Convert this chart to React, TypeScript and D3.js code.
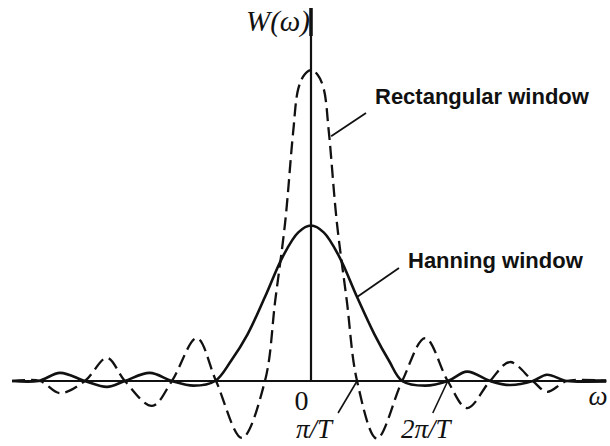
import React from "react";
import * as d3 from "d3";

// Frequency axis in units of π/T, amplitude normalised to the rectangular peak.
// Rectangular window spectrum: key points (zeros, lobe extremes, main-lobe flanks).
const rectU = [-6.36, -5.77, -5.34, -4.81, -4.34, -3.96, -3.38, -2.96, -2.43, -2.02, -1.47, -0.98, -0.76, -0.55, -0.38, -0.27, -0.14, 0, 0.14, 0.27, 0.38, 0.55, 0.76, 0.98, 1.4, 1.94, 2.43, 2.91, 3.32, 3.81, 4.23, 4.72, 5.02, 5.45, 6.28];
const rectW = [0, 0, -0.039, 0, 0.074, 0, -0.08, 0, 0.138, 0, -0.183, 0, 0.26, 0.51, 0.8, 0.94, 0.985, 1.0, 0.985, 0.94, 0.8, 0.51, 0.26, 0, -0.185, 0, 0.138, 0, -0.087, 0, 0.061, 0, -0.035, 0, 0];

// Hanning window spectrum.
const hannU = [-6.36, -5.8, -5.34, -4.81, -4.34, -3.96, -3.43, -2.96, -2.5, -2.04, -1.7, -1.35, -0.98, -0.6, -0.27, 0, 0.27, 0.6, 0.98, 1.35, 1.66, 1.94, 2.43, 2.91, 3.32, 3.81, 4.23, 4.72, 5.02, 5.45, 6.28];
const hannW = [0, 0, 0.026, 0, -0.019, 0, 0.026, 0, -0.015, 0, 0.065, 0.15, 0.27, 0.4, 0.478, 0.5, 0.478, 0.4, 0.27, 0.15, 0.065, 0, -0.015, 0, 0.03, 0, -0.013, 0, 0.02, 0, 0];

// Axis extent and annotated positions (π/T units)
const axisExtent = [-6.36, 6.28];
const tickNotes = [
  { text: "0", at: -0.2 },
  { text: "π/T", at: 0.98 },
  { text: "2π/T", at: 2.91 },
];

const W = 610;
const H = 446;

export default function App() {
  const x = d3.scaleLinear().domain([-1, 1]).range([264, 358]);
  const y = d3.scaleLinear().domain([0, 1]).range([381, 70]);

  const line = d3
    .line<[number, number]>()
    .x((d) => x(d[0]))
    .y((d) => y(d[1]))
    .curve(d3.curveCatmullRom.alpha(0.5));

  const rectPts = rectU.map((u, i) => [u, rectW[i]] as [number, number]);
  const hannPts = hannU.map((u, i) => [u, hannW[i]] as [number, number]);

  const x0 = x(0);
  const yBase = y(0);
  const serif = "'Liberation Serif', 'DejaVu Serif', serif";
  const sans = "'Liberation Sans', Arial, sans-serif";

  // leader anchors
  const rectLeaderU = 0.45;
  const hannLeaderU = 0.98;
  const hannAt = (u: number) => hannW[hannU.indexOf(u)];

  const piNote = tickNotes[1];
  const twoPiNote = tickNotes[2];

  return (
    <svg
      width={W}
      height={H}
      viewBox={`0 0 ${W} ${H}`}
      style={{ position: "absolute", left: 0, top: 0, display: "block", background: "#fff" }}
    >
      <rect width={W} height={H} fill="#fff" />
      {/* horizontal axis */}
      <line x1={x(axisExtent[0])} x2={x(axisExtent[1])} y1={yBase} y2={yBase} stroke="#111" strokeWidth={1.8} />
      <line x1={x(axisExtent[1]) - 20} x2={x(axisExtent[1])} y1={yBase} y2={yBase} stroke="#111" strokeWidth={3.5} />
      {/* vertical axis */}
      <line x1={x0} x2={x0} y1={8} y2={yBase} stroke="#111" strokeWidth={2.2} />
      <line x1={x0} x2={x0} y1={8} y2={36} stroke="#111" strokeWidth={3.5} />

      {/* spectra */}
      <path d={line(hannPts) ?? ""} fill="none" stroke="#111" strokeWidth={2.6} />
      <path
        d={line(rectPts) ?? ""}
        fill="none"
        stroke="#111"
        strokeWidth={2.3}
        strokeDasharray="13 6"
      />

      {/* legend leaders */}
      <line x1={x(rectLeaderU) - 1} y1={y(0.8) + 4} x2={366} y2={113} stroke="#111" strokeWidth={1.8} />
      <line x1={x(hannLeaderU)} y1={y(hannAt(hannLeaderU))} x2={399} y2={268} stroke="#111" strokeWidth={1.8} />
      <text x={375} y={104} fontFamily={sans} fontWeight="bold" fontSize={22} fill="#111">
        Rectangular window
      </text>
      <text x={408} y={268} fontFamily={sans} fontWeight="bold" fontSize={22} fill="#111">
        Hanning window
      </text>

      {/* axis labels */}
      <text x={310} y={31} textAnchor="end" fontFamily={serif} fontStyle="italic" fontSize={29} fill="#111">
        W(ω)
      </text>
      <text x={598} y={405} textAnchor="middle" fontFamily={serif} fontStyle="italic" fontSize={27} fill="#111">
        ω
      </text>
      <text x={x(tickNotes[0].at)} y={410} textAnchor="middle" fontFamily={serif} fontSize={28} fill="#111">
        {tickNotes[0].text}
      </text>

      <line x1={x(piNote.at)} y1={yBase} x2={x(piNote.at) - 19} y2={413} stroke="#111" strokeWidth={1.6} />
      <text x={296} y={438} fontFamily={serif} fontStyle="italic" fontSize={27} fill="#111">
        {piNote.text}
      </text>
      <line x1={x(twoPiNote.at)} y1={yBase} x2={x(twoPiNote.at) - 15} y2={413} stroke="#111" strokeWidth={1.6} />
      <text x={401} y={438} fontFamily={serif} fontStyle="italic" fontSize={27} fill="#111">
        {twoPiNote.text}
      </text>
    </svg>
  );
}
